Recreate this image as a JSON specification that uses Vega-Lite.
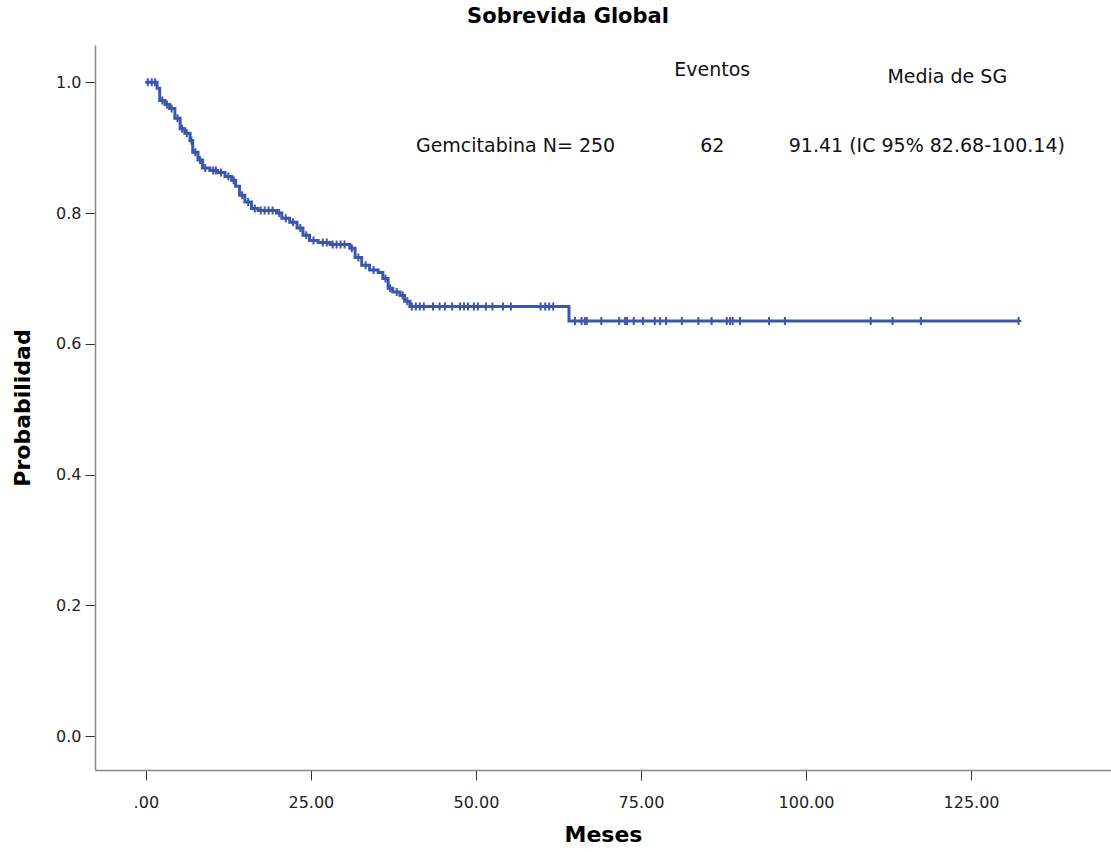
{
  "$schema": "https://vega.github.io/schema/vega-lite/v6.json",
  "autosize": {"type": "none"},
  "padding": {"left": 95, "top": 45, "right": 0, "bottom": 82},
  "width": 1016,
  "height": 725,
  "background": "white",
  "config": {
    "view": {"stroke": null},
    "font": "DejaVu Sans"
  },
  "title": {
    "text": "Sobrevida Global",
    "font": "DejaVu Sans",
    "fontSize": 21,
    "fontWeight": "bold",
    "color": "#000000",
    "anchor": "middle",
    "offset": 18,
    "dx": -35
  },
  "datasets": {
    "curve": [
      {"t": 0, "s": 1.0},
      {"t": 1.7, "s": 0.991},
      {"t": 2.1, "s": 0.972},
      {"t": 2.9, "s": 0.966},
      {"t": 3.6, "s": 0.960},
      {"t": 4.4, "s": 0.945},
      {"t": 5.2, "s": 0.929},
      {"t": 5.9, "s": 0.922},
      {"t": 6.7, "s": 0.911},
      {"t": 7.1, "s": 0.893},
      {"t": 7.9, "s": 0.881},
      {"t": 8.6, "s": 0.869},
      {"t": 9.7, "s": 0.865},
      {"t": 10.9, "s": 0.862},
      {"t": 12.0, "s": 0.856},
      {"t": 13.0, "s": 0.850},
      {"t": 13.6, "s": 0.841},
      {"t": 14.2, "s": 0.827},
      {"t": 15.0, "s": 0.817},
      {"t": 16.0, "s": 0.807},
      {"t": 17.0, "s": 0.804},
      {"t": 19.8, "s": 0.800},
      {"t": 20.6, "s": 0.792},
      {"t": 21.8, "s": 0.786},
      {"t": 22.9, "s": 0.777},
      {"t": 23.8, "s": 0.766},
      {"t": 24.8, "s": 0.758},
      {"t": 26.1, "s": 0.755},
      {"t": 27.9, "s": 0.752},
      {"t": 30.9, "s": 0.746},
      {"t": 31.7, "s": 0.732},
      {"t": 32.7, "s": 0.720},
      {"t": 33.9, "s": 0.713},
      {"t": 35.2, "s": 0.709},
      {"t": 35.9, "s": 0.700},
      {"t": 36.7, "s": 0.685},
      {"t": 37.4, "s": 0.679},
      {"t": 38.5, "s": 0.674},
      {"t": 39.2, "s": 0.665},
      {"t": 40.0, "s": 0.657},
      {"t": 64.1, "s": 0.635},
      {"t": 132.2, "s": 0.635}
    ],
    "censor": [
      {"t": 0.3, "s": 1.0}, {"t": 0.9, "s": 1.0}, {"t": 1.4, "s": 1.0},
      {"t": 2.5, "s": 0.972}, {"t": 3.2, "s": 0.966}, {"t": 3.9, "s": 0.960},
      {"t": 4.8, "s": 0.945}, {"t": 5.5, "s": 0.929}, {"t": 6.2, "s": 0.922},
      {"t": 6.9, "s": 0.911}, {"t": 7.5, "s": 0.893}, {"t": 8.2, "s": 0.881},
      {"t": 9.0, "s": 0.869}, {"t": 10.2, "s": 0.865}, {"t": 10.6, "s": 0.865},
      {"t": 11.4, "s": 0.862}, {"t": 12.5, "s": 0.856}, {"t": 13.3, "s": 0.850},
      {"t": 14.6, "s": 0.827}, {"t": 15.5, "s": 0.817}, {"t": 16.5, "s": 0.807},
      {"t": 17.4, "s": 0.804}, {"t": 18.0, "s": 0.804}, {"t": 18.6, "s": 0.804},
      {"t": 19.2, "s": 0.804}, {"t": 20.2, "s": 0.800}, {"t": 21.2, "s": 0.792},
      {"t": 22.3, "s": 0.786}, {"t": 23.4, "s": 0.777}, {"t": 24.3, "s": 0.766},
      {"t": 25.4, "s": 0.758}, {"t": 26.8, "s": 0.755}, {"t": 27.4, "s": 0.755},
      {"t": 28.3, "s": 0.752}, {"t": 28.9, "s": 0.752}, {"t": 29.5, "s": 0.752},
      {"t": 30.1, "s": 0.752}, {"t": 31.2, "s": 0.746}, {"t": 32.2, "s": 0.732},
      {"t": 33.3, "s": 0.720}, {"t": 34.5, "s": 0.713}, {"t": 36.3, "s": 0.700},
      {"t": 37.0, "s": 0.685}, {"t": 38.0, "s": 0.679}, {"t": 38.9, "s": 0.674},
      {"t": 39.6, "s": 0.665},
      {"t": 40.3, "s": 0.657}, {"t": 40.9, "s": 0.657}, {"t": 41.5, "s": 0.657},
      {"t": 42.1, "s": 0.657}, {"t": 43.5, "s": 0.657}, {"t": 44.5, "s": 0.657},
      {"t": 45.3, "s": 0.657}, {"t": 46.4, "s": 0.657}, {"t": 47.6, "s": 0.657},
      {"t": 48.2, "s": 0.657}, {"t": 48.8, "s": 0.657}, {"t": 49.7, "s": 0.657},
      {"t": 50.3, "s": 0.657}, {"t": 51.5, "s": 0.657}, {"t": 52.5, "s": 0.657},
      {"t": 54.1, "s": 0.657}, {"t": 55.3, "s": 0.657}, {"t": 59.8, "s": 0.657},
      {"t": 60.5, "s": 0.657}, {"t": 61.1, "s": 0.657}, {"t": 61.7, "s": 0.657},
      {"t": 65.0, "s": 0.635}, {"t": 66.0, "s": 0.635}, {"t": 66.5, "s": 0.635},
      {"t": 66.8, "s": 0.635}, {"t": 69.0, "s": 0.635}, {"t": 71.7, "s": 0.635},
      {"t": 72.6, "s": 0.635}, {"t": 72.9, "s": 0.635}, {"t": 73.9, "s": 0.635},
      {"t": 75.3, "s": 0.635}, {"t": 77.1, "s": 0.635}, {"t": 77.9, "s": 0.635},
      {"t": 78.8, "s": 0.635}, {"t": 81.2, "s": 0.635}, {"t": 83.7, "s": 0.635},
      {"t": 85.7, "s": 0.635}, {"t": 88.0, "s": 0.635}, {"t": 88.5, "s": 0.635},
      {"t": 88.9, "s": 0.635}, {"t": 90.0, "s": 0.635}, {"t": 94.4, "s": 0.635},
      {"t": 96.8, "s": 0.635}, {"t": 109.8, "s": 0.635}, {"t": 113.1, "s": 0.635},
      {"t": 117.4, "s": 0.635}, {"t": 132.2, "s": 0.635}
    ],
    "labels": [
      {"label": "Eventos", "tx": 85.8, "ty": 1.018},
      {"label": "Media de SG", "tx": 121.4, "ty": 1.008},
      {"label": "Gemcitabina N= 250", "tx": 56.0, "ty": 0.902},
      {"label": "62", "tx": 85.8, "ty": 0.902},
      {"label": "91.41 (IC 95% 82.68-100.14)", "tx": 118.3, "ty": 0.902}
    ]
  },
  "encoding": {
    "x": {
      "field": "t",
      "type": "quantitative",
      "scale": {"domain": [-7.7, 146.2], "nice": false, "zero": false},
      "axis": {
        "title": "Meses",
        "values": [0, 25, 50, 75, 100, 125],
        "labelExpr": "datum.value == 0 ? '.00' : format(datum.value, '.2f')",
        "grid": false,
        "domainColor": "#888888",
        "domainWidth": 1.5,
        "tickColor": "#333333",
        "tickSize": 10,
        "tickWidth": 1,
        "labelFont": "DejaVu Sans",
        "labelFontSize": 16,
        "labelColor": "#222222",
        "labelPadding": 14,
        "titleFont": "DejaVu Sans",
        "titleFontSize": 22,
        "titleFontWeight": "bold",
        "titleColor": "#000000",
        "titlePadding": 14
      }
    },
    "y": {
      "field": "s",
      "type": "quantitative",
      "scale": {"domain": [-0.052, 1.057], "nice": false, "zero": false},
      "axis": {
        "title": "Probabilidad",
        "values": [0, 0.2, 0.4, 0.6, 0.8, 1.0],
        "format": ".1f",
        "grid": false,
        "domainColor": "#888888",
        "domainWidth": 1.5,
        "tickColor": "#333333",
        "tickSize": 10,
        "tickWidth": 1,
        "labelFont": "DejaVu Sans",
        "labelFontSize": 16,
        "labelColor": "#222222",
        "labelPadding": 4,
        "titleFont": "DejaVu Sans",
        "titleFontSize": 22,
        "titleFontWeight": "bold",
        "titleColor": "#000000",
        "titlePadding": 21
      }
    }
  },
  "layer": [
    {
      "data": {"name": "curve"},
      "mark": {"type": "line", "interpolate": "step-after", "color": "#3d56ad", "strokeWidth": 3},
      "encoding": {}
    },
    {
      "data": {"name": "censor"},
      "mark": {
        "type": "point",
        "shape": "M0,-1L0,1M-0.7,0L0.7,0",
        "size": 64,
        "filled": false,
        "stroke": "#3d56ad",
        "strokeWidth": 2,
        "opacity": 1
      },
      "encoding": {}
    },
    {
      "data": {"name": "labels"},
      "mark": {"type": "text", "font": "DejaVu Sans", "fontSize": 19, "color": "#111111", "align": "center", "baseline": "middle"},
      "encoding": {
        "x": {"field": "tx", "type": "quantitative"},
        "y": {"field": "ty", "type": "quantitative"},
        "text": {"field": "label"}
      }
    }
  ]
}
